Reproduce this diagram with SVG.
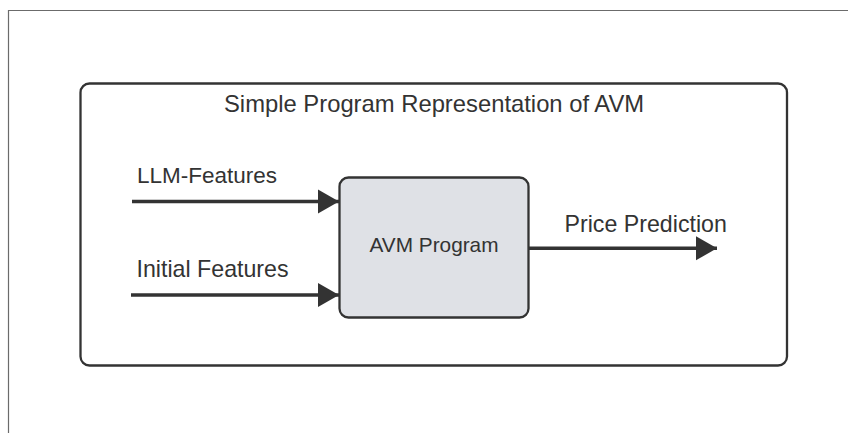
<svg xmlns="http://www.w3.org/2000/svg" width="848" height="433" viewBox="0 0 848 433">
  <style>
    .lbl { font-family: "Liberation Sans", Arial, sans-serif; fill: #333333; }
    .frame { fill: none; stroke: #6b6b6b; stroke-width: 1.2; }
    .edge { fill: none; stroke: #333333; stroke-width: 3.5; }
  </style>
  <defs>
    <marker id="arrow" markerUnits="userSpaceOnUse" markerWidth="22" markerHeight="26" refX="21" refY="12.5" orient="auto">
      <polygon points="0,0.5 21,12.5 0,24.5" fill="#333333"/>
    </marker>
  </defs>

  <rect width="848" height="433" fill="#ffffff"/>

  <!-- page frame: top and left edges only -->
  <path class="frame" d="M8.5,433 V10.5 H848"/>

  <!-- container -->
  <g id="container">
    <rect x="80.5" y="83.5" width="706.5" height="282" rx="9" fill="#ffffff" stroke="#333333" stroke-width="2.3"/>
    <text class="lbl" x="224" y="111.5" font-size="23.8">Simple Program Representation of AVM</text>
  </g>

  <!-- central process -->
  <g id="avm-program">
    <rect x="339.5" y="177.5" width="189" height="140" rx="9" fill="#dfe1e6" stroke="#333333" stroke-width="2.3"/>
    <text class="lbl" x="434" y="252.3" font-size="20.8" text-anchor="middle">AVM Program</text>
  </g>

  <!-- connectors -->
  <g id="connectors">
    <line class="edge" x1="132" y1="201.5" x2="339" y2="201.5" marker-end="url(#arrow)"/>
    <line class="edge" x1="131" y1="295" x2="339" y2="295" marker-end="url(#arrow)"/>
    <line class="edge" x1="529" y1="248.3" x2="717" y2="248.3" marker-end="url(#arrow)"/>
  </g>

  <!-- connector labels -->
  <g id="label-llm-features">
    <text class="lbl" x="137" y="182.5" font-size="22.5">LLM-Features</text>
  </g>
  <g id="label-initial-features">
    <text class="lbl" x="136.5" y="276.7" font-size="23.2">Initial Features</text>
  </g>
  <g id="label-price-prediction">
    <text class="lbl" x="564.5" y="231.5" font-size="23.2">Price Prediction</text>
  </g>
</svg>
